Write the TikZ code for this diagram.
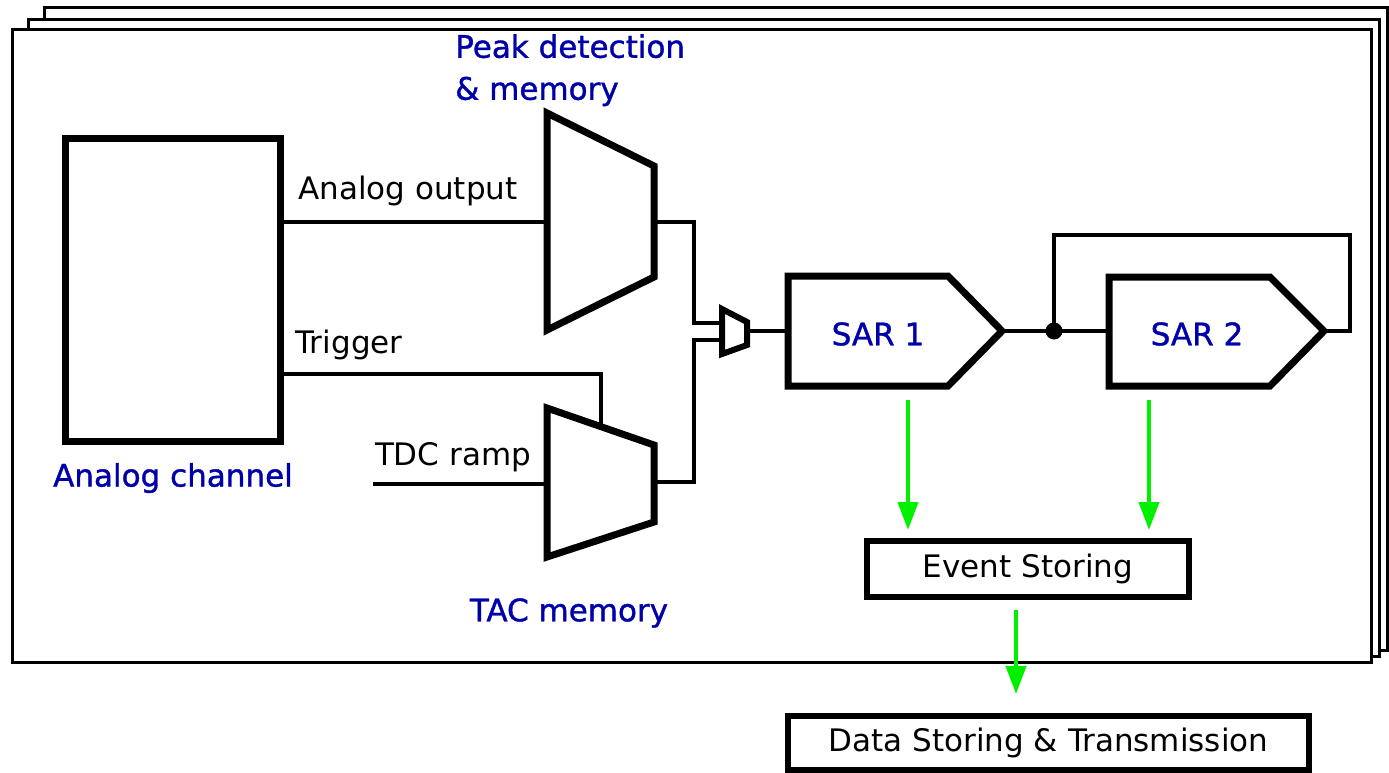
\documentclass[tikz,border=0pt]{standalone}
\usepackage{fontspec}
\setmainfont{DejaVu Sans}
\newfontfamily\bluefont[FakeBold=1.2]{DejaVu Sans}
\usetikzlibrary{arrows.meta}
\definecolor{lblue}{RGB}{0,0,170}
\definecolor{lgreen}{RGB}{0,240,0}
\tikzset{
  frame/.style={draw=black,line width=3pt,fill=white},
  thickbox/.style={draw=black,line width=7pt,fill=white},
  wire/.style={draw=black,line width=3.8pt},
  garrow/.style={draw=lgreen,line width=4pt,-{Triangle[length=28pt,width=20pt]}},
  txt/.style={font=\fontsize{31}{38}\selectfont,text=black,inner sep=0pt},
  btxt/.style={font=\bluefont\fontsize{31}{38}\selectfont,text=lblue,inner sep=0pt},
}
\begin{document}
\begin{tikzpicture}[x=1pt,y=-1pt]
\useasboundingbox (0,0) rectangle (1389,772);
% stacked frames
\draw[frame] (44,7) rectangle (1387,650);
\draw[frame] (28,19) rectangle (1379,656);
\draw[frame] (12,29) rectangle (1371,662);

% analog channel
\node[thickbox,minimum width=215pt,minimum height=303pt,inner sep=0pt] (ac) at (172.5,289.5) {};
\node[btxt] (aclbl) at (173,478) {Analog channel};

% peak detection trapezoid
\coordinate (pd1) at (547,113);
\coordinate (pd2) at (654,166);
\coordinate (pd3) at (654,277);
\coordinate (pd4) at (547,330);
\draw[thickbox,line join=miter] (pd1) -- (pd2) -- (pd3) -- (pd4) -- cycle;
\coordinate (pdin) at (547,222);
\coordinate (pdout) at (654,222);
\node[btxt,align=left,anchor=north west,font=\bluefont\fontsize{31}{42}\selectfont] (pdlbl) at (455,34) {Peak detection\\\& memory};

% TAC trapezoid
\coordinate (ta1) at (547,408);
\coordinate (ta2) at (654,445);
\coordinate (ta3) at (654,522);
\coordinate (ta4) at (547,557);
\draw[thickbox,line join=miter] (ta1) -- (ta2) -- (ta3) -- (ta4) -- cycle;
\coordinate (tain) at (547,484);
\coordinate (taout) at (654,482);
\coordinate (tatrig) at (601,426);
\node[btxt] (talbl) at (569,613) {TAC memory};

% small mux
\coordinate (m1) at (722,309);
\coordinate (m2) at (747,322);
\coordinate (m3) at (747,345);
\coordinate (m4) at (722,354);
\draw[wire,line width=6pt,fill=white,line join=miter] (m1) -- (m2) -- (m3) -- (m4) -- cycle;
\coordinate (min1) at (722,323);
\coordinate (min2) at (722,340);
\coordinate (mout) at (747,331);

% SAR1
\coordinate (s1a) at (788,276);
\coordinate (s1b) at (948,276);
\coordinate (s1c) at (1002,331);
\coordinate (s1d) at (948,386);
\coordinate (s1e) at (788,386);
\draw[thickbox,line join=miter] (s1a) -- (s1b) -- (s1c) -- (s1d) -- (s1e) -- cycle;
\coordinate (s1in) at (788,331);
\node[btxt] (sar1) at (878,334) {SAR 1};

% SAR2
\coordinate (s2a) at (1109,277);
\coordinate (s2b) at (1270,277);
\coordinate (s2c) at (1324,331);
\coordinate (s2d) at (1270,386);
\coordinate (s2e) at (1109,386);
\draw[thickbox,line join=miter] (s2a) -- (s2b) -- (s2c) -- (s2d) -- (s2e) -- cycle;
\coordinate (s2in) at (1109,331);
\node[btxt] (sar2) at (1197,334) {SAR 2};

% wires
\coordinate (acout1) at (280,222);
\coordinate (acout2) at (280,374);
\coordinate (tdcstart) at (373,484);
\draw[wire] (acout1) -- (pdin);
\node[txt] (aolbl) at (408,191) {Analog output};
\draw[wire] (acout2) -- (601,374) -- (tatrig);
\node[txt] (trlbl) at (349,345) {Trigger};
\draw[wire] (tdcstart) -- (tain);
\node[txt] (tdclbl) at (453,457) {TDC ramp};
\draw[wire] (pdout) -- (694,222) -- (694,323) -- (min1);
\draw[wire] (taout) -- (694,482) -- (694,340) -- (min2);
\draw[wire] (mout) -- (s1in);
\coordinate (dot) at (1054,331);
\draw[wire] (s1c) -- (s2in);
\draw[wire] (dot) -- (1054,235) -- (1350,235) -- (1350,331) -- (s2c);
\fill (dot) circle (8.5pt);

% storage
\node[draw,line width=6pt,fill=white,minimum width=322pt,minimum height=56pt,inner sep=0pt,txt] (ev) at (1028,568.5) {Event Storing};
\node[draw,line width=6pt,fill=white,minimum width=521pt,minimum height=54pt,inner sep=0pt,txt] (ds) at (1048.5,743) {Data Storing \& Transmission};

\draw[garrow] (908,400) -- (908,530);
\draw[garrow] (1149,400) -- (1149,530);
\draw[garrow] (1016,610) -- (1016,694);
\end{tikzpicture}
\end{document}
